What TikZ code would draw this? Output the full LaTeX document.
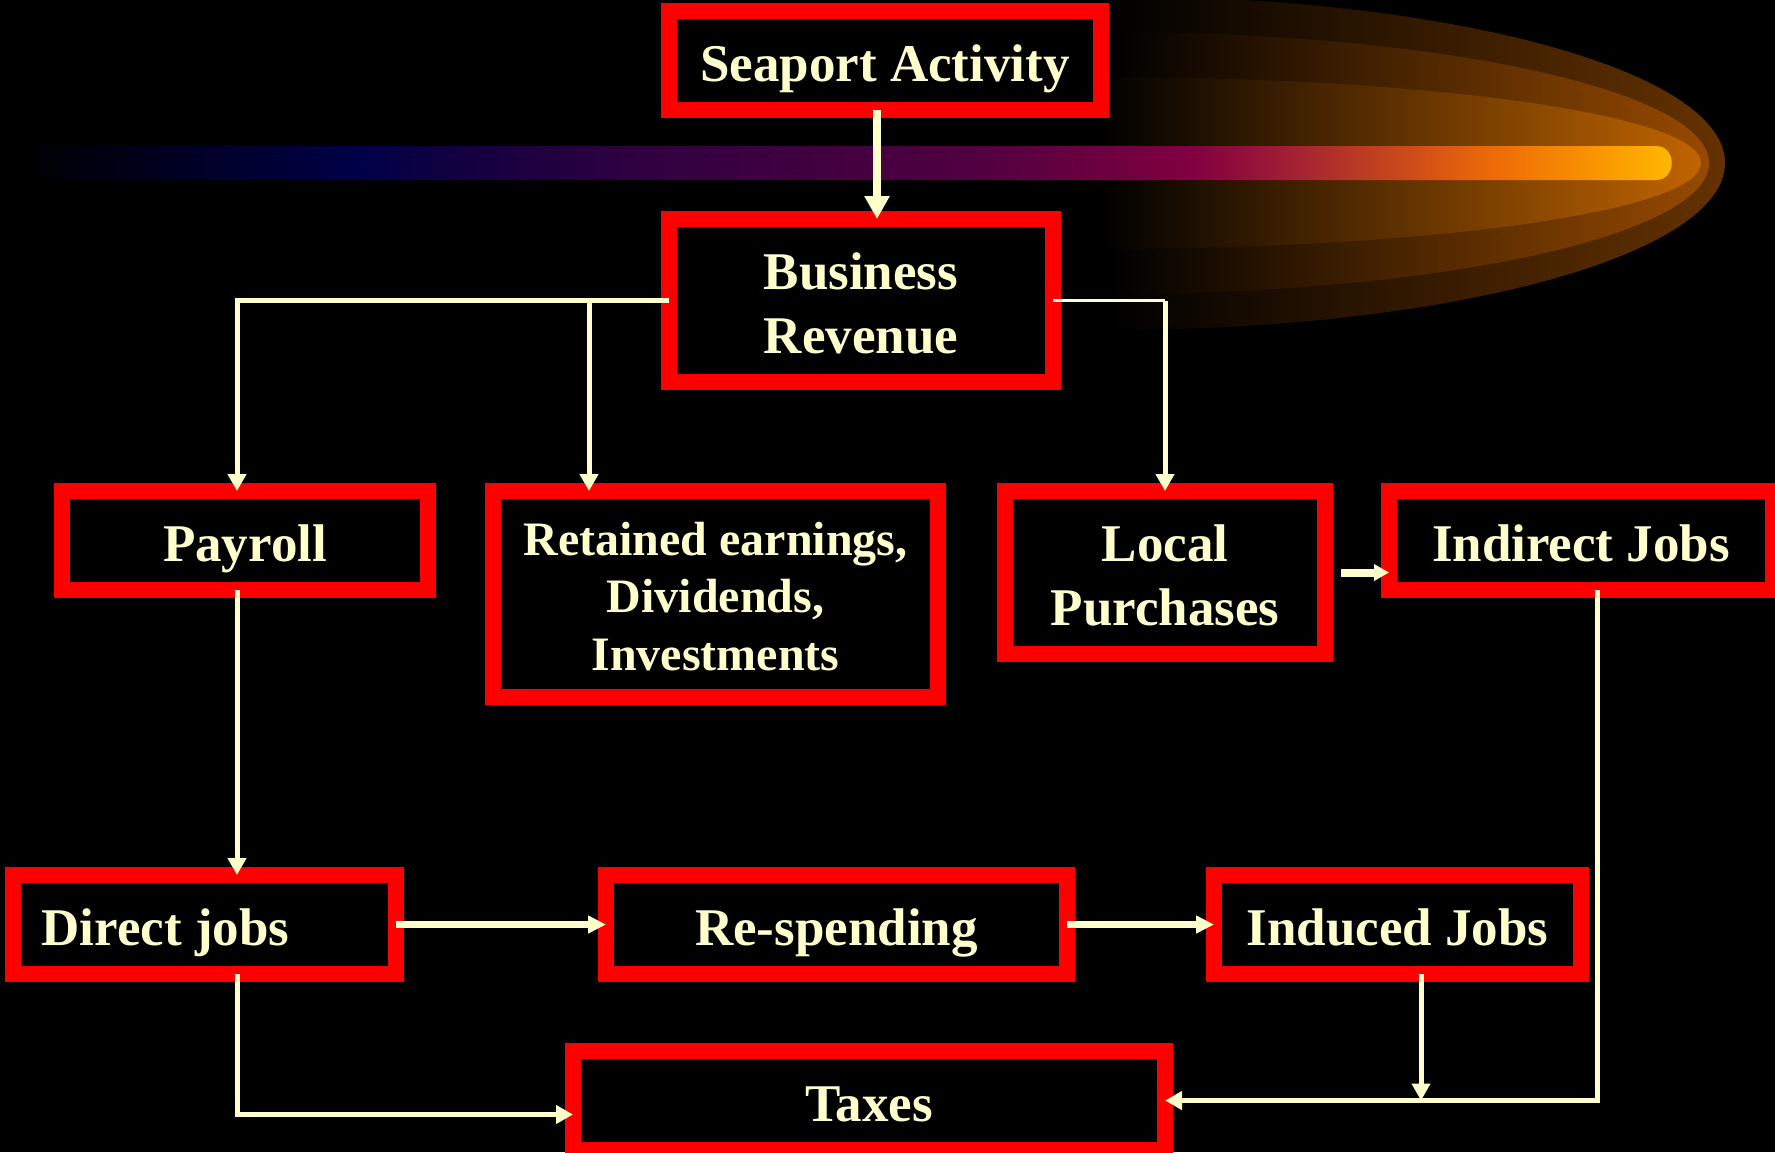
\documentclass[tikz,border=0pt]{standalone}
\usepackage{fontspec}
\setmainfont{Liberation Serif}
\usetikzlibrary{arrows.meta}
\definecolor{cream}{HTML}{FFFFCC}
\definecolor{ba}{HTML}{000010}
\definecolor{bb}{HTML}{000048}
\definecolor{bc}{HTML}{100040}
\definecolor{bd}{HTML}{300040}
\definecolor{be}{HTML}{500040}
\definecolor{bf}{HTML}{800040}
\definecolor{bg}{HTML}{9A1838}
\definecolor{bh}{HTML}{C04020}
\definecolor{bi}{HTML}{EC6A08}
\definecolor{bj}{HTML}{F89000}
\definecolor{bk}{HTML}{FFB800}
\definecolor{cometA}{HTML}{653200}
\definecolor{cometB}{HTML}{974A00}
\definecolor{cometC}{HTML}{C06400}
\pgfdeclarehorizontalshading{barshade}{100bp}{color(0bp)=(black); color(25bp)=(black); color(27.1bp)=(ba); color(35.2bp)=(bb); color(37.9bp)=(bc); color(43.7bp)=(bd); color(53.8bp)=(be); color(60.3bp)=(bf); color(62.7bp)=(bg); color(65.9bp)=(bh); color(69.4bp)=(bi); color(72.2bp)=(bj); color(74.9bp)=(bk); color(100bp)=(bk)}
\newcommand{\toprule}{\rule{0pt}{21.4pt}}
\newcommand{\toprulesm}{\rule{0pt}{19.1pt}}
\begin{document}
\begin{tikzpicture}[x=0.5pt,y=-0.5pt,
  box/.style={rectangle, draw=red, line width=8pt, fill=black, inner sep=0pt, outer sep=0pt,
    text=cream, font=\bfseries\fontsize{26.5}{31.8}\selectfont},
  single/.style={text depth=0pt},
  conn/.style={draw=cream, line width=2.5pt},
  arr/.style={conn, -{Triangle[length=8.5pt,width=9pt]}},
  harr/.style={conn, line width=3.25pt, -{Triangle[length=9pt,width=8.5pt]}},
  bigarr/.style={conn, line width=4pt, -{Triangle[length=11.5pt,width=12pt]}},
  midarr/.style={conn, line width=4pt, -{Triangle[length=7.5pt,width=8pt]}},
  thinln/.style={conn, line width=1.2pt}]
\useasboundingbox (0,0) rectangle (1775,1152);
\clip (0,0) rectangle (1775,1152);
\fill[black] (0,0) rectangle (1775,1152);
% comet glow
\shade[left color=black, right color=cometA] (1110,-4) .. controls (1450,-4) and (1725,71) .. (1725,163) .. controls (1725,255) and (1450,330) .. (1110,330) -- cycle;
\shade[left color=black, right color=cometB] (1110,32) .. controls (1441,32) and (1709,91) .. (1709,163) .. controls (1709,235) and (1441,294) .. (1110,294) -- cycle;
\shade[left color=black, right color=cometC] (1100,77) .. controls (1432,77) and (1701,115) .. (1701,163) .. controls (1701,211) and (1432,249) .. (1100,249) -- cycle;
% comet bar
\shade[shading=barshade] (20,146) -- (1656,146) .. controls (1677,146) and (1677,180) .. (1656,180) -- (20,180) -- cycle;
% boxes
\node[box, single, minimum width=216pt, minimum height=49.5pt] (Seaport) at (885,60.5) {\toprule Seaport Activity};
\node[box, align=center, minimum width=192pt, minimum height=81.5pt] (Business) at (861,300.5) {\toprule Business\\Revenue};
\node[box, single, minimum width=183pt, minimum height=49.5pt] (Payroll) at (245,540.5) {\toprule Payroll};
\node[box, align=center, minimum width=222.5pt, minimum height=103pt, font=\bfseries\fontsize{24}{28.6}\selectfont] (Retained) at (715.5,594) {\toprulesm Retained earnings,\\Dividends,\\Investments};
\node[box, align=center, minimum width=160pt, minimum height=81.5pt] (Local) at (1165,572.5) {\toprule Local\\Purchases};
\node[box, single, minimum width=192pt, minimum height=49.5pt] (Indirect) at (1581,540.5) {\toprule Indirect Jobs};
\node[box, single, minimum width=191.5pt, minimum height=49.5pt] (Direct) at (204.5,924.5) {\toprule Direct jobs\hspace*{39pt}};
\node[box, single, minimum width=230.5pt, minimum height=49.5pt] (Respending) at (836.5,924.5) {\toprule Re-spending};
\node[box, single, minimum width=183.5pt, minimum height=49.5pt] (Induced) at (1397.5,924.5) {\toprule Induced Jobs};
\node[box, single, minimum width=296pt, minimum height=49.5pt] (Taxes) at (869,1100.5) {\toprule Taxes};
% columns
\coordinate (colS) at (877,0);
\coordinate (colP) at (237,0);
\coordinate (colR) at (589,0);
\coordinate (colI) at (1597,0);
\coordinate (colN) at (1421,0);
% connectors
\draw[bigarr] (Seaport.south -| colS) -- (Business.north -| colS);
\draw[arr] (Business.west) -| (Payroll.north -| colP);
\draw[arr] (Business.west -| colR) -- (Retained.north -| colR);
\draw[thinln] (Business.east) -- (Business.east -| Local.north);
\draw[arr] (Business.east -| Local.north) -- (Local.north);
\draw[midarr] ([xshift=8pt]Local.east) -- (Local.east -| Indirect.west);
\draw[arr] (Payroll.south -| colP) -- (Direct.north -| colP);
\draw[harr] (Direct.east) -- (Respending.west);
\draw[harr] (Respending.east) -- (Induced.west);
\draw[arr] (Direct.south -| colP) |- ([yshift=-7pt]Taxes.west);
\draw[arr] (Indirect.south -| colI) |- (Taxes.east);
\draw[arr] (Induced.south -| colN) -- (Taxes.east -| colN);
\end{tikzpicture}
\end{document}
